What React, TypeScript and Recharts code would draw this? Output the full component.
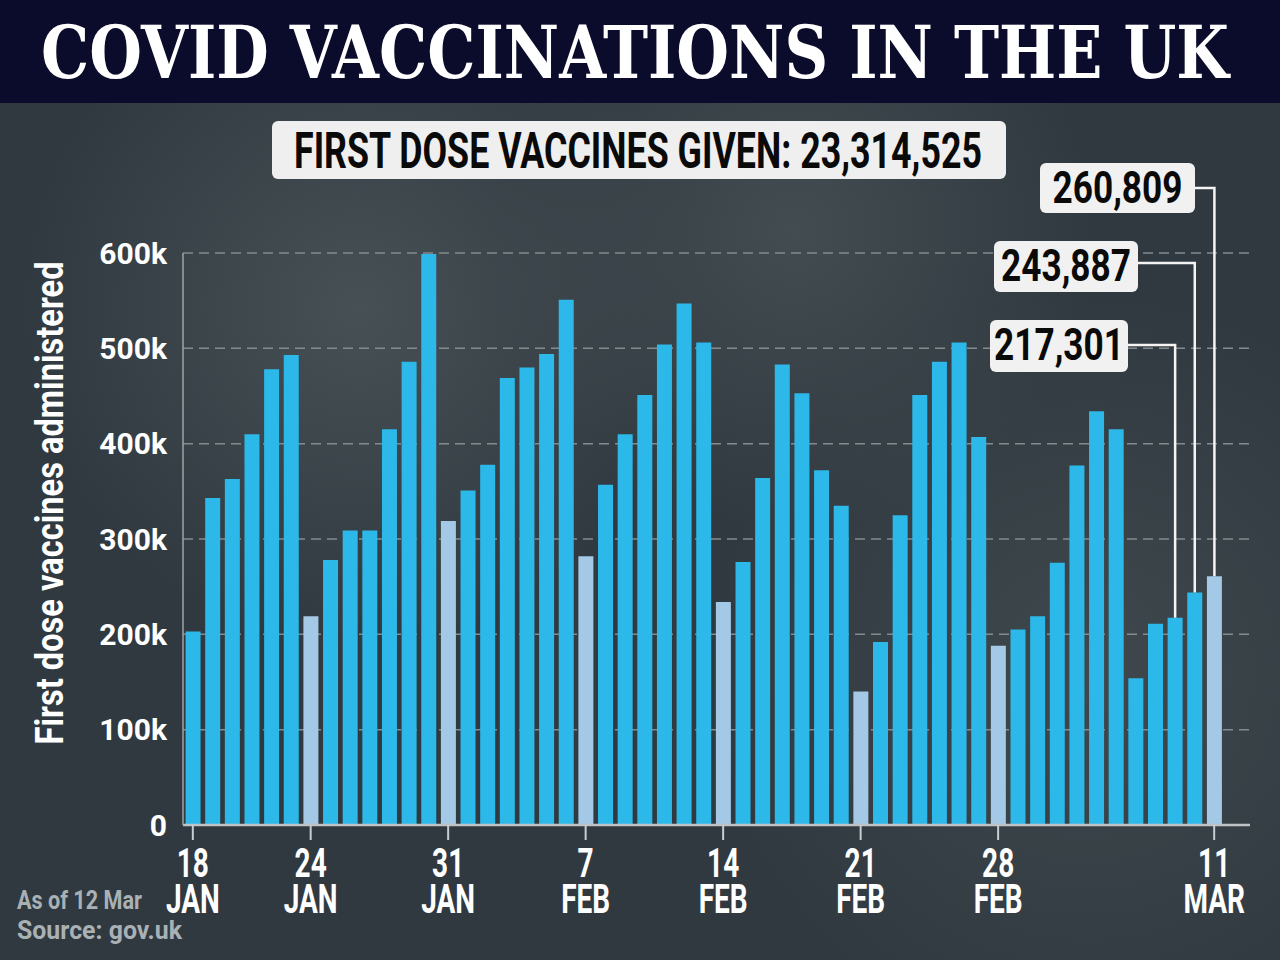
import { BarChart, Bar, XAxis, YAxis, CartesianGrid, Cell, LabelList } from "recharts"

// one bar per day, 18 Jan - 11 Mar 2021
const dates = [
  "18 Jan", "19 Jan", "20 Jan", "21 Jan", "22 Jan", "23 Jan", "24 Jan",
  "25 Jan", "26 Jan", "27 Jan", "28 Jan", "29 Jan", "30 Jan", "31 Jan",
  "1 Feb", "2 Feb", "3 Feb", "4 Feb", "5 Feb", "6 Feb", "7 Feb",
  "8 Feb", "9 Feb", "10 Feb", "11 Feb", "12 Feb", "13 Feb", "14 Feb",
  "15 Feb", "16 Feb", "17 Feb", "18 Feb", "19 Feb", "20 Feb", "21 Feb",
  "22 Feb", "23 Feb", "24 Feb", "25 Feb", "26 Feb", "27 Feb", "28 Feb",
  "1 Mar", "2 Mar", "3 Mar", "4 Mar", "5 Mar", "6 Mar", "7 Mar",
  "8 Mar", "9 Mar", "10 Mar", "11 Mar",
]

const firstDoses = [
  203000, 343000, 363000, 410000, 478000, 493000, 219000,
  278000, 309000, 309000, 415000, 486000, 599000, 319000,
  351000, 378000, 469000, 480000, 494000, 551000, 282000,
  357000, 410000, 451000, 504000, 547000, 506000, 234000,
  276000, 364000, 483000, 453000, 372000, 335000, 140000,
  192000, 325000, 451000, 486000, 506000, 407000, 188000,
  205000, 219000, 275000, 377000, 434000, 415000, 154000,
  211000, 217301, 243887, 260809,
]

// paler bars
const lighterDays = ["24 Jan", "31 Jan", "7 Feb", "14 Feb", "21 Feb", "28 Feb", "11 Mar"]

const tickDates = ["18 Jan", "24 Jan", "31 Jan", "7 Feb", "14 Feb", "21 Feb", "28 Feb", "11 Mar"]

const yTicks = [0, 100000, 200000, 300000, 400000, 500000, 600000]

const calloutDates = ["9 Mar", "10 Mar", "11 Mar"]

const totalGiven = "23,314,525"

const data = dates.map((date, i) => ({ date, doses: firstDoses[i] }))

const FONT = "Roboto, 'Open Sans', sans-serif"

// where the white value boxes sit
const calloutBoxes: Record<string, { x: number; y: number; w: number; h: number; lineY: number }> = {
  "9 Mar": { x: 990, y: 320, w: 138, h: 52, lineY: 345 },
  "10 Mar": { x: 994, y: 241, w: 144, h: 51, lineY: 263 },
  "11 Mar": { x: 1040, y: 163, w: 155, h: 50, lineY: 188 },
}

// condensed text: squeeze glyphs horizontally to a given width
function Squeezed({ x, y, width, sx, size, fill, anchor = "start", family = FONT, rotate = 0, children }: any) {
  return (
    <text
      transform={`translate(${x} ${y})${rotate ? ` rotate(${rotate})` : ""} scale(${sx} 1)`}
      textAnchor={anchor}
      textLength={width / sx}
      lengthAdjust="spacingAndGlyphs"
      fill={fill}
      fontFamily={family}
      fontWeight={700}
      fontSize={size}
    >
      {children}
    </text>
  )
}

function XTick({ x, y, payload }: any) {
  if (!tickDates.includes(payload.value)) return <g />
  const [day, mon] = String(payload.value).split(" ")
  return (
    <g>
      <line x1={x} y1={y} x2={x} y2={y + 15} stroke="#c9cdd0" strokeWidth={2} />
      <text
        transform={`translate(${x} ${y + 52}) scale(0.7 1)`}
        textAnchor="middle"
        fill="#ffffff"
        fontFamily={FONT}
        fontWeight={700}
        fontSize={40}
      >
        <tspan x={0} y={0}>{day}</tspan>
        <tspan x={0} y={36}>{mon.toUpperCase()}</tspan>
      </text>
    </g>
  )
}

function Callout(props: any) {
  const { x, y, width, value } = props
  if (!calloutDates.includes(value)) return null
  const box = calloutBoxes[value]
  const cx = Number(x) + Number(width) / 2
  const dose = firstDoses[dates.indexOf(value)]
  return (
    <g>
      <polyline
        points={`${box.x + box.w},${box.lineY} ${cx},${box.lineY} ${cx},${Number(y)}`}
        fill="none"
        stroke="#f4f4f4"
        strokeWidth={2.5}
      />
      <rect x={box.x} y={box.y} width={box.w} height={box.h} rx={6} fill="#f1f1f1" />
      <text
        transform={`translate(${box.x + box.w / 2} ${box.y + 40}) scale(0.8 1)`}
        textAnchor="middle"
        fill="#0a0a0a"
        fontFamily={FONT}
        fontWeight={700}
        fontSize={44}
      >
        {dose.toLocaleString("en-GB")}
      </text>
    </g>
  )
}

export default function App() {
  return (
    <div
      style={{
        position: "absolute",
        left: 0,
        top: 0,
        width: 1280,
        height: 960,
        overflow: "hidden",
        background:
          "radial-gradient(circle at 28% 32%, #465055 0%, rgba(70,80,85,0) 30%), radial-gradient(circle at 62% 24%, #434c51 0%, rgba(67,76,81,0) 28%), radial-gradient(circle at 85% 70%, #3e484d 0%, rgba(62,72,77,0) 30%), #30393f",
      }}
    >
      <svg width={1280} height={960} style={{ position: "absolute", left: 0, top: 0 }}>
        <rect x={0} y={0} width={1280} height={103} fill="#0b0b2b" />
        <Squeezed x={41} y={78} width={1188} sx={0.8} size={72} fill="#ffffff" family="'DejaVu Serif', serif">
          COVID VACCINATIONS IN THE UK
        </Squeezed>
        <rect x={272} y={121} width={734} height={58} rx={6} fill="#efefef" />
        <Squeezed x={294} y={168} width={688} sx={0.7} size={50} fill="#0a0a0a">
          {`FIRST DOSE VACCINES GIVEN: ${totalGiven}`}
        </Squeezed>
        <Squeezed x={63} y={503} width={483} sx={0.78} size={39} fill="#ffffff" anchor="middle" rotate={-90}>
          First dose vaccines administered
        </Squeezed>
        <Squeezed x={17} y={909} width={125} sx={0.8} size={25} fill="#a9b1b5">
          As of 12 Mar
        </Squeezed>
        <Squeezed x={17} y={939} width={165} sx={0.8} size={25} fill="#a9b1b5">
          Source: gov.uk
        </Squeezed>
      </svg>

      <div style={{ position: "absolute", left: 0, top: 0 }}>
        <BarChart
          width={1280}
          height={960}
          data={data}
          margin={{ top: 253, right: 30, bottom: 35, left: 83 }}
          barCategoryGap="13%"
        >
          <CartesianGrid vertical={false} stroke="#838b8f" strokeDasharray="10 6" strokeWidth={1.5} />
          <XAxis
            dataKey="date"
            interval={0}
            height={100}
            tickSize={0}
            tickMargin={0}
            tickLine={false}
            padding={{ left: 0, right: 26 }}
            axisLine={{ stroke: "#bfc3c6", strokeWidth: 2.5 }}
            tick={(p: any) => <XTick {...p} />}
          />
          <YAxis
            width={100}
            domain={[0, 600000]}
            ticks={yTicks}
            interval={0}
            tickSize={0}
            tickMargin={16}
            tickLine={false}
            axisLine={{ stroke: "#9ea4a8", strokeWidth: 1.5 }}
            tickFormatter={(v: number) => (v === 0 ? "0" : `${v / 1000}k`)}
            tick={{ fill: "#ffffff", fontSize: 30, fontWeight: 700, fontFamily: FONT }}
          />
          <Bar dataKey="doses" isAnimationActive={false}>
            {data.map((d) => (
              <Cell key={d.date} fill={lighterDays.includes(d.date) ? "#a4c9e6" : "#2cb9ea"} />
            ))}
            <LabelList dataKey="date" content={(p: any) => <Callout {...p} />} />
          </Bar>
        </BarChart>
      </div>
    </div>
  )
}
